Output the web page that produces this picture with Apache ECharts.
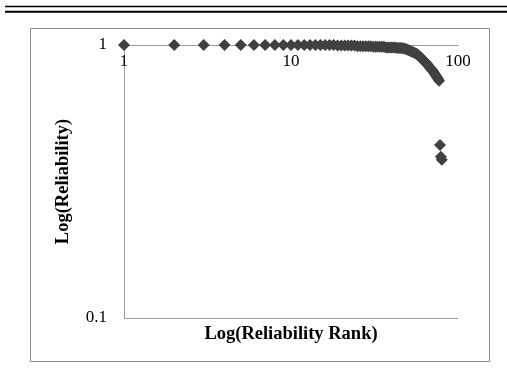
<!DOCTYPE html>
<html>
<head>
<meta charset="utf-8">
<script src="https://cdn.jsdelivr.net/npm/echarts@6/dist/echarts.min.js"></script>
<style>html,body{margin:0;padding:0;background:#fff}#c{width:507px;height:372px}</style>
</head>
<body>
<div id="c"></div>
<script>
var ranks = [1,2,3,4,5,6,7,8,9,10,11,12,13,14,15,16,17,18,19,20,
  21,22,23,24,25,26,27,28,29,30,31,32,33,34,35,36,37,38,39,40,
  41,42,43,44,45,46,47,48,49,50,51,52,53,54,55,56,57,58,59,60,
  61,62,63,64,65,66,67,68,69,70,71,72,73,74,75,76,77,78,79,80];
var reliability = [1,1,1,1,1,1,1,1,1,1,1,1,1,1,1,1,1,1,0.995,0.995,
  0.995,0.995,0.995,0.995,0.99,0.99,0.99,0.99,0.99,0.99,0.985,0.985,0.985,0.985,0.985,0.985,0.98,0.98,0.98,0.98,
  0.98,0.98,0.975,0.975,0.975,0.975,0.97,0.97,0.965,0.96,0.955,0.95,0.945,0.94,0.935,0.93,0.925,0.915,0.905,0.9,
  0.89,0.88,0.87,0.86,0.855,0.845,0.835,0.825,0.815,0.81,0.8,0.79,0.78,0.77,0.76,0.75,0.74,0.43,0.39,0.38];
var xTicks = [1, 10, 100];
var yTicks = [0.1, 1];
var xTitle = 'Log(Reliability Rank)';
var yTitle = 'Log(Reliability)';

var pts = ranks.map(function (r, i) { return [r, reliability[i]]; });
var serif = '"Liberation Serif","Times New Roman",serif';
var chart = echarts.init(document.getElementById('c'), null, {renderer: 'canvas'});
chart.setOption({
  animation: false,
  backgroundColor: '#fff',
  grid: {left: 124, right: 49, top: 45, bottom: 54},
  xAxis: {
    type: 'log', logBase: 10, min: xTicks[0], max: xTicks[xTicks.length - 1],
    position: 'top',
    axisLine: {show: true, lineStyle: {color: '#9a9a9a', width: 1}},
    axisTick: {show: false},
    splitLine: {show: false},
    axisLabel: {inside: true, margin: 8, color: '#000', fontFamily: serif, fontSize: 17}
  },
  yAxis: {
    type: 'log', logBase: 10, min: yTicks[0], max: yTicks[yTicks.length - 1],
    axisLine: {show: true, lineStyle: {color: '#9a9a9a', width: 1}},
    axisTick: {show: false},
    splitLine: {show: true, lineStyle: {color: '#9a9a9a', width: 1}},
    axisLabel: {margin: 17, color: '#000', fontFamily: serif, fontSize: 17},
    name: yTitle, nameLocation: 'middle', nameRotate: 90, nameGap: 51,
    nameTextStyle: {color: '#000', fontFamily: serif, fontSize: 18.5, fontWeight: 'bold'}
  },
  series: [{
    type: 'scatter', data: pts, symbol: 'diamond', symbolSize: 12,
    itemStyle: {color: '#404040', opacity: 1}
  }],
  graphic: [
    {type: 'line', shape: {x1: 5, y1: 6.5, x2: 507, y2: 6.5}, style: {stroke: '#000', lineWidth: 1.5}},
    {type: 'line', shape: {x1: 5, y1: 11.8, x2: 507, y2: 11.8}, style: {stroke: '#000', lineWidth: 2}},
    {type: 'rect', shape: {x: 30.5, y: 28.5, width: 459, height: 333}, style: {fill: null, stroke: '#8a8a8a', lineWidth: 1}},
    {type: 'text', x: 291, y: 334, style: {text: xTitle, textAlign: 'center', textVerticalAlign: 'middle', font: 'bold 18.5px ' + serif, fill: '#000'}}
  ]
});
</script>
</body>
</html>
